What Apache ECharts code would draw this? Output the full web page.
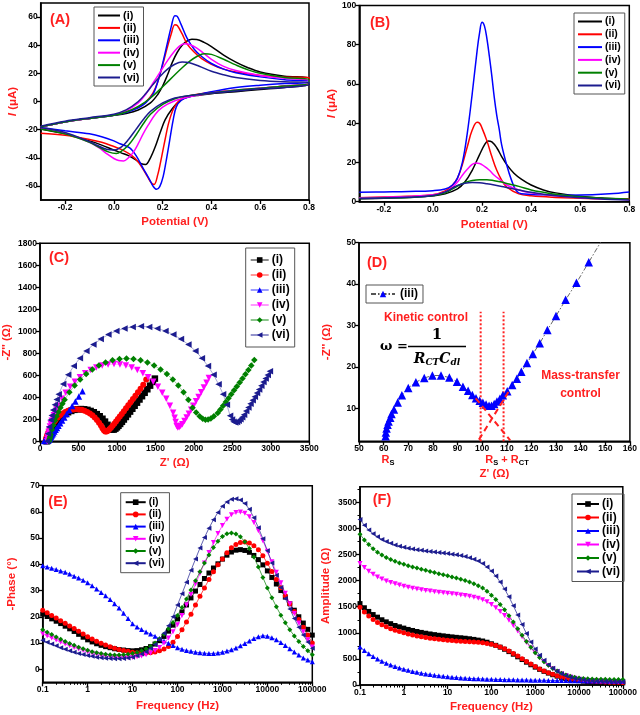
<!DOCTYPE html>
<html><head><meta charset="utf-8">
<script src="https://cdn.jsdelivr.net/npm/echarts@6/dist/echarts.min.js"></script>
<style>html,body{margin:0;padding:0;background:#fff}#c{width:640px;height:715px}</style>
</head><body><div id="c"></div>
<script>
// ---------- DATA ----------
const labels = ['(i)','(ii)','(iii)','(iv)','(v)','(vi)'];
// (A) cyclic voltammograms [E (V), I (uA)]
const cvI = [[-0.3,-18],[-0.2,-14.5],[-0.1,-12],[0,-9.8],[0.05,-8.5],[0.1,-6],[0.15,-1],[0.18,5],[0.2,11],[0.22,19],[0.24,28],[0.26,35],[0.28,40],[0.3,43],[0.32,44.2],[0.34,44],[0.37,42],[0.4,39],[0.45,33],[0.5,28],[0.55,24],[0.6,21],[0.7,18],[0.8,16.5],
 [0.8,12.5],[0.7,10],[0.6,8.5],[0.5,7],[0.4,5.5],[0.35,4.5],[0.3,3],[0.27,0.5],[0.24,-5],[0.21,-13],[0.19,-22],[0.17,-32],[0.15,-40],[0.13,-44.8],[0.11,-44],[0.09,-41.5],[0.06,-38.5],[0.03,-36.5],[0,-34.5],[-0.05,-31],[-0.1,-28],[-0.2,-23],[-0.3,-19.5]];
const cvII = [[-0.3,-18],[-0.2,-14.5],[-0.1,-12],[0,-9.8],[0.05,-7.5],[0.1,-4],[0.13,-0.5],[0.16,6],[0.18,14],[0.2,26],[0.22,39],[0.235,48],[0.25,54.5],[0.26,54],[0.28,48],[0.3,41],[0.33,35],[0.36,30.5],[0.4,26.5],[0.45,23],[0.5,21],[0.6,18.5],[0.7,17.3],[0.8,17],
 [0.8,13],[0.7,11],[0.6,9.5],[0.5,8],[0.4,6.5],[0.3,3.5],[0.27,1],[0.245,-5],[0.225,-15],[0.21,-27],[0.195,-40],[0.18,-52],[0.165,-59],[0.15,-57],[0.13,-51],[0.1,-43],[0.07,-38],[0.03,-34],[0,-32],[-0.05,-29],[-0.1,-27],[-0.2,-24],[-0.3,-22.5]];
const cvIII = [[-0.3,-18],[-0.2,-14.5],[-0.1,-12],[0,-9.8],[0.05,-7.8],[0.1,-4.5],[0.13,-1],[0.16,5],[0.18,14],[0.2,27],[0.22,42],[0.235,53],[0.25,61],[0.26,60.5],[0.275,55],[0.3,45],[0.33,37],[0.36,32],[0.4,27],[0.45,23],[0.5,20.5],[0.6,17.5],[0.7,15.5],[0.8,14.5],
 [0.8,13.5],[0.7,12.8],[0.6,11.6],[0.5,9.9],[0.4,6.9],[0.31,3.3],[0.277,0.9],[0.256,-3.8],[0.243,-13.2],[0.229,-27.4],[0.215,-41.6],[0.202,-53.4],[0.188,-60.5],[0.175,-62.4],[0.16,-60],[0.147,-55.7],[0.12,-47.5],[0.093,-39],[0.065,-33],[0.025,-30],[0,-28],[-0.05,-25],[-0.1,-23],[-0.2,-20.8],[-0.3,-18.4]];
const cvIV = [[-0.3,-18],[-0.2,-14.5],[-0.1,-12],[0,-9.5],[0.05,-6.5],[0.1,-1],[0.13,5],[0.16,13],[0.19,21],[0.22,29],[0.25,36],[0.27,39.5],[0.29,41],[0.31,40.5],[0.34,38],[0.37,34],[0.4,30],[0.45,25],[0.5,22],[0.6,18.5],[0.7,16.5],[0.8,15],
 [0.8,13],[0.7,11],[0.6,9.5],[0.5,8],[0.4,6],[0.3,3],[0.25,0.5],[0.2,-4],[0.17,-9],[0.14,-17],[0.12,-23],[0.1,-30],[0.08,-36],[0.06,-40],[0.04,-42.3],[0.02,-42],[0,-40.5],[-0.03,-37],[-0.06,-33],[-0.1,-29],[-0.2,-22.5],[-0.3,-19]];
const cvV = [[-0.3,-18],[-0.2,-14.5],[-0.1,-12],[0,-9.8],[0.05,-7.5],[0.1,-3.5],[0.15,2.5],[0.2,10.5],[0.25,19],[0.28,24],[0.31,28.5],[0.34,32],[0.37,34],[0.4,33.5],[0.45,30],[0.5,26],[0.55,22.5],[0.6,20],[0.7,17],[0.8,15.5],
 [0.8,13],[0.7,11],[0.6,9.5],[0.5,8],[0.4,6],[0.3,4],[0.25,2],[0.2,-2],[0.15,-9],[0.12,-16],[0.09,-24],[0.06,-31],[0.03,-35.5],[0.01,-37],[-0.02,-36],[-0.06,-32.5],[-0.1,-29],[-0.2,-23],[-0.3,-19.5]];
const cvVI = [[-0.3,-17.5],[-0.2,-14],[-0.1,-11.5],[0,-9],[0.05,-6],[0.1,0],[0.13,5.5],[0.16,12],[0.19,18],[0.22,23],[0.25,26.5],[0.28,28],[0.31,27.5],[0.35,25],[0.4,21.5],[0.45,19],[0.5,17],[0.6,15],[0.7,14],[0.8,13.5],
 [0.8,12],[0.7,10],[0.6,9],[0.5,7.5],[0.4,6],[0.3,4],[0.25,2.5],[0.2,-1],[0.15,-7],[0.12,-13],[0.09,-20],[0.06,-27],[0.03,-32.5],[0,-34.5],[-0.03,-34],[-0.07,-31],[-0.1,-28.5],[-0.2,-22],[-0.3,-18.5]];
// (B) differential pulse voltammograms
const dpvI = [[-0.3,1.5],[-0.2,1.8],[-0.1,2.2],[0,3],[0.05,4],[0.1,6.5],[0.13,10],[0.16,16],[0.19,24],[0.21,29],[0.225,31],[0.24,30.5],[0.26,27.5],[0.28,23],[0.3,19],[0.33,14.5],[0.36,11.5],[0.4,8.5],[0.45,6],[0.5,4.5],[0.6,2.8],[0.7,1.8],[0.8,1.2]];
const dpvII = [[-0.3,2],[-0.2,2.4],[-0.1,2.8],[0,3.6],[0.05,5.5],[0.08,8.5],[0.1,12],[0.12,19],[0.14,28],[0.16,36.5],[0.18,40.5],[0.19,40],[0.2,37.5],[0.22,31],[0.24,23],[0.26,16],[0.28,11],[0.3,7.5],[0.35,4],[0.4,3],[0.5,2.2],[0.6,1.8],[0.7,1.5],[0.8,1.5]];
const dpvIII = [[-0.3,4.8],[-0.2,5],[-0.1,5.2],[0,5.6],[0.05,6.5],[0.08,8.5],[0.1,12],[0.12,20],[0.14,35],[0.16,55],[0.18,77],[0.19,86],[0.2,91.5],[0.21,89.5],[0.22,83],[0.23,74],[0.24,64],[0.25,53],[0.26,44],[0.27,37],[0.28,29],[0.3,19],[0.32,11],[0.34,5.5],[0.36,4],[0.45,3.5],[0.55,3.3],[0.65,3.5],[0.72,4],[0.8,5]];
const dpvIV = [[-0.3,2],[-0.2,2.3],[-0.1,2.7],[0,3.5],[0.05,5],[0.08,7.5],[0.1,10],[0.12,13.5],[0.14,16.5],[0.16,19],[0.175,19.7],[0.19,19.5],[0.21,18],[0.23,16],[0.25,13.5],[0.28,10.5],[0.3,8.5],[0.35,6],[0.4,4.5],[0.5,3],[0.6,2],[0.7,1.5],[0.8,1]];
const dpvV = [[-0.3,1.6],[-0.2,1.9],[-0.1,2.2],[0,3],[0.05,4.5],[0.08,6.5],[0.1,8],[0.13,9.8],[0.16,10.8],[0.19,11.2],[0.22,11.2],[0.25,10.7],[0.28,10],[0.31,9],[0.35,7.8],[0.4,6],[0.45,4.8],[0.5,3.8],[0.6,2.5],[0.7,1.8],[0.8,1.3]];
const dpvVI = [[-0.3,1.6],[-0.2,1.9],[-0.1,2.3],[0,3.2],[0.05,5],[0.08,7],[0.1,8.3],[0.13,9.4],[0.16,9.8],[0.19,9.6],[0.22,9.1],[0.25,8.5],[0.28,7.8],[0.31,7],[0.35,6],[0.4,4.8],[0.45,3.8],[0.5,3],[0.6,2],[0.7,1.3],[0.8,0.8]];
// (C) Nyquist plots [Z', -Z'']
const nyqI = [[85,0],[90,12],[100,30],[110,49],[121,67],[133,85],[145,102],[159,119],[172,135],[187,150],[202,165],[218,179],[235,192],[252,205],[270,217],[288,228],[326,247],[365,264],[406,276],[447,286],[490,291],[532,293],[574,291],[617,286],[658,276],[699,264],[738,247],[776,228],[812,205],[845,179],[877,150],[900,128],[920,113],[940,106],[960,107],[980,115],[1000,127],[1020,141],[1042,158],[1065,177],[1090,198],[1116,221],[1143,245],[1171,270],[1200,296],[1230,323],[1261,351],[1293,380],[1326,410],[1360,441],[1395,473],[1431,506],[1468,540],[1493,570]];
const nyqII = [[72,0],[75,8],[78,17],[84,33],[92,51],[100,67],[109,83],[118,98],[128,114],[139,128],[150,143],[162,156],[175,169],[188,182],[202,194],[231,216],[262,236],[294,253],[328,267],[363,278],[398,286],[435,290],[471,292],[508,290],[544,286],[579,278],[614,267],[648,253],[680,236],[711,216],[740,194],[767,169],[792,143],[812,118],[830,100],[847,90],[865,90],[883,97],[902,109],[922,124],[943,141],[965,160],[988,180],[1012,202],[1037,225],[1063,249],[1090,274],[1118,300],[1147,327],[1177,355],[1208,384],[1240,414],[1273,445],[1307,477],[1342,515],[1381,562]];
const nyqIII = [[60.8,3.2],[60.9,4.1],[61.2,5.1],[61.6,6.0],[62.0,6.8],[62.7,7.7],[63.2,8.6],[64.2,9.7],[65.7,11.4],[67.4,13.1],[70.0,14.9],[73.1,16.3],[76.5,17.3],[79.8,17.9],[83.3,17.9],[86.7,17.4],[89.8,16.4],[92.2,15.2],[94.3,14.2],[96.0,13.2],[97.5,12.4],[99.0,11.8],[100.3,11.3],[101.6,10.9],[102.8,10.6],[103.8,10.6],[104.9,11.0],[106.0,11.6],[107.2,12.3],[108.4,13.1],[110.2,14.1],[112.2,15.6],[114.1,17.1],[115.9,18.8],[118.2,20.9],[120.6,23.1],[123.4,25.7],[126.5,28.9],[130.0,32.3],[133.9,36.2],[138.3,40.3],[143.3,45.3],[150,52],[160,62],[172,74],[186,88],[202,104],[220,122],[240,142],[262,164],[287,189],[315,217],[346,248],[380,282],[418,320],[460,362],[505,408],[552,456]];
const nyqIV = [[95,0],[98,20],[101,38],[106,60],[112,85],[120,110],[129,135],[140,160],[152,186],[166,212],[180,236],[196,260],[215,290],[236,324],[283,386],[335,442],[392,495],[453,542],[519,583],[587,619],[659,649],[732,672],[808,689],[885,699],[962,702],[1039,699],[1116,689],[1192,672],[1265,649],[1337,619],[1405,583],[1471,542],[1532,495],[1589,442],[1641,386],[1688,324],[1730,259],[1750,215],[1763,175],[1776,140],[1790,125],[1808,127],[1828,138],[1850,155],[1878,185],[1906,217],[1935,251],[1965,287],[1996,324],[2028,363],[2061,403],[2095,445],[2130,488],[2165,532],[2195,575]];
const nyqV = [[118,0],[122,14],[126,27],[132,44],[138,62],[155,105],[174,147],[195,188],[216,228],[240,267],[265,305],[292,342],[320,378],[382,445],[450,507],[522,562],[600,611],[680,653],[765,689],[852,716],[942,736],[1033,748],[1124,752],[1215,748],[1307,736],[1396,716],[1483,689],[1567,653],[1649,611],[1726,562],[1798,507],[1866,445],[1928,378],[1983,305],[2030,262],[2075,228],[2115,205],[2150,196],[2185,198],[2220,208],[2260,228],[2310,257],[2345,290],[2380,324],[2415,358],[2450,392],[2486,428],[2522,463],[2558,499],[2595,535],[2632,572],[2670,610],[2708,648],[2746,690],[2785,740]];
const nyqVI = [[92,0],[104,68],[119,131],[138,193],[152,234],[171,284],[193,333],[217,381],[243,428],[301,520],[366,605],[439,684],[518,756],[603,822],[694,880],[789,929],[889,971],[992,1003],[1097,1026],[1204,1040],[1311,1045],[1418,1040],[1525,1026],[1630,1003],[1733,971],[1832,929],[1928,880],[2019,822],[2104,756],[2183,684],[2256,604],[2321,519],[2379,428],[2429,333],[2470,233],[2495,198],[2516,178],[2538,172],[2560,176],[2582,186],[2605,200],[2628,218],[2652,242],[2680,275],[2708,308],[2736,341],[2764,374],[2792,406],[2820,439],[2848,472],[2876,505],[2904,538],[2932,570],[2960,603],[2988,636]];
// (D) annotation guides [Z', -Z'']
const dKineticLeft = [[99.4,2],[99.4,33.3]];
const dKineticRight = [[108.7,2],[108.7,33.3]];
const dTangentA = [[97.4,12.4],[111.4,2.2]];
const dTangentB = [[98.7,2.4],[111.4,14.6]];
// (E),(F) Bode plots
const freqs = [0.1,0.1259,0.1585,0.1995,0.2512,0.3162,0.3981,0.5012,0.631,0.7943,
 1,1.259,1.585,1.995,2.512,3.162,3.981,5.012,6.31,7.943,
 10,12.59,15.85,19.95,25.12,31.62,39.81,50.12,63.1,79.43,
 100,125.9,158.5,199.5,251.2,316.2,398.1,501.2,631,794.3,
 1000,1259,1585,1995,2512,3162,3981,5012,6310,7943,
 10000,12589,15849,19953,25119,31623,39811,50119,63096,79433,100000];
const phaseI = [21,20.1,19.2,18.3,17.4,16.4,15.4,14.4,13.3,12.2, 11.2,10.4,9.7,9.1,8.6,8.2,7.8,7.5,7.3,7.1, 7,7.1,7.4,7.9,8.6,9.6,10.9,12.5,14.5,16.8, 19.2,21.8,24.5,27.2,29.8,32.3,34.6,36.7,38.6,40.2, 42,43.5,44.7,45.4,45.6,45.3,44.6,43.4,41.8,39.8, 37.5,35,32.5,30,27.5,25,22.5,20,17.6,15.2,13];
const phaseII = [22.5,21.5,20.5,19.5,18.5,17.5,16.5,15.5,14.5,13.4, 12.4,11.5,10.7,9.9,9.2,8.6,8,7.5,7.1,6.8, 6.5,6.3,6.2,6.2,6.3,6.6,7,7.7,8.7,10.3, 12.5,15,18,21,24.5,27.8,31,34.2,37.2,39.8, 42,44.4,46.3,47.6,48.3,48.5,48.1,47.1,45.6,43.3, 40.4,37.3,34.2,31.1,28,25,22,19,16,13,10];
const phaseIII = [39.5,39,38.5,38,37.5,37,36.3,35.5,34.8,33.9, 33,31.8,30.6,29.3,28,26.6,25,23.3,21.3,19.3, 17.3,16.1,15.1,14.2,13.4,12.6,11.7,10.8,9.9,9, 8.2,7.6,7.1,6.8,6.5,6.3,6.1,6,6,6.2, 6.5,6.9,7.4,8.1,8.9,9.8,10.8,11.7,12.4,12.8, 12.6,12,11.2,10.2,9,7.8,6.6,5.4,4.3,3.5,2.8];
const phaseIV = [13.5,12.7,11.9,11.1,10.3,9.6,8.9,8.3,7.7,7.1, 6.6,6.1,5.7,5.3,5,4.8,4.6,4.5,4.4,4.4, 4.5,4.7,5,5.5,6.2,7.1,8.3,9.9,11.9,14.3, 17,20.5,24.5,28.5,32.5,36.5,40.5,44.5,48.3,51.8, 54.8,57.2,58.9,59.8,60,59.5,58.2,56,52.8,49, 45,41,37,33,29,25,21.2,17.6,14.3,11.2,8.5];
const phaseV = [15,14.1,13.2,12.3,11.4,10.6,9.8,9.1,8.4,7.8, 7.2,6.7,6.3,6,5.7,5.5,5.4,5.4,5.5,5.7, 6,6.4,7,7.8,8.8,10,11.5,13.3,15.4,17.8, 20.5,23.5,26.8,30.2,33.7,37.2,40.5,43.6,46.4,48.8, 50.6,51.7,52,51.6,50.5,48.6,46,42.8,39,35, 31,27.3,23.8,20.6,17.7,15,12.7,10.6,8.7,7,5.5];
const phaseVI = [11,10.3,9.6,8.9,8.2,7.6,7,6.5,6,5.6, 5.2,4.9,4.6,4.4,4.2,4.1,4,4,4.1,4.3, 4.6,5.1,5.8,6.7,7.9,9.4,11.3,13.7,16.6,20, 24.5,28.8,33.2,37.7,42,46.2,50.2,53.8,57,59.8, 62.2,63.8,64.8,65,64.5,63.2,61,57.8,54,49.8, 45.2,40.5,35.8,31.2,27,23,19.3,16,13,10.4,8];
const ampI = [1560,1480,1410,1350,1300,1250,1210,1175,1140,1115, 1090,1065,1045,1025,1008,992,978,965,953,942, 932,922,913,905,896,886,874,860,843,820, 790,760,725,685,640,590,540,488,437,388, 342,300,262,228,197,170,146,126,109,95, 83,74,67,61,56,52,49,46,44,42,40];
const ampII = [1490,1400,1320,1255,1200,1155,1115,1080,1050,1025, 1000,978,958,940,925,911,898,886,875,866, 858,851,845,840,835,830,824,817,808,796, 780,757,728,693,652,606,556,504,452,401, 353,309,270,235,204,177,154,134,117,103, 92,83,76,70,65,61,58,55,53,51,50];
const ampIII = [730,660,600,545,497,455,418,385,355,328, 303,281,261,243,227,212,199,187,176,166, 157,149,142,136,131,126,122,118,115,112, 109,107,105,103,101,99,97,96,94,93, 92,90,89,88,87,86,85,84,83,82, 81,80,79,78,77,76,75,74,73,72,71];
const ampIV = [2330,2250,2180,2120,2070,2030,1995,1965,1940,1915, 1893,1873,1855,1840,1825,1812,1800,1788,1777,1767, 1757,1747,1737,1726,1714,1700,1683,1662,1635,1595, 1545,1482,1410,1330,1240,1140,1035,925,815,710, 612,522,442,372,312,260,217,181,152,128, 110,97,88,82,77,74,71,69,67,66,65];
const ampV = [2890,2780,2690,2610,2545,2490,2445,2405,2370,2340, 2312,2287,2263,2240,2218,2197,2176,2155,2134,2113, 2092,2071,2049,2026,2001,1973,1941,1903,1857,1797, 1720,1640,1545,1440,1325,1205,1080,955,835,722, 620,528,447,377,317,267,226,193,167,148, 134,125,119,115,112,110,108,107,106,105,104];
const ampVI = [3170,3060,2970,2900,2840,2790,2750,2715,2685,2660, 2640,2622,2606,2592,2580,2569,2558,2548,2538,2528, 2518,2507,2495,2480,2462,2440,2412,2375,2326,2262, 2185,2090,1975,1840,1690,1520,1340,1160,985,825, 690,572,472,390,320,262,216,179,149,125, 108,95,86,79,74,70,67,65,63,62,61];
// tick labels
const potTicks = [-0.2,0,0.2,0.4,0.6,0.8];
const cvTicks = [-60,-40,-20,0,20,40,60];
const dpvTicks = [0,20,40,60,80,100];
const nyqTicksX = [0,500,1000,1500,2000,2500,3000,3500];
const nyqTicksY = [0,200,400,600,800,1000,1200,1400,1600,1800];
const dTicksX = [50,60,70,80,90,100,110,120,130,140,150,160];
const dTicksY = [10,20,30,40,50];
const freqTicks = [0.1,1,10,100,1000,10000,100000];
const freqMinor = [0.2,0.3,0.4,0.5,0.6,0.7,0.8,0.9,2,3,4,5,6,7,8,9,20,30,40,50,60,70,80,90,200,300,400,500,600,700,800,900,2000,3000,4000,5000,6000,7000,8000,9000,20000,30000,40000,50000,60000,70000,80000,90000];
const phaseTicks = [0,10,20,30,40,50,60,70];
const ampTicks = [0,500,1000,1500,2000,2500,3000,3500];
const ampMinor = [250,750,1250,1750,2250,2750,3250,3750];

// ---------- STYLE ----------
const colors = ['#000000','#ff0000','#0000ff','#ff00ff','#008000','#1c1c8f'];
const pale = ['#8a8a8a','#ff9a9a','#9a9aff','#ff9aff','#8cc48c','#9494cc'];
const symbols = ['rect','circle','triangle','triangle','diamond','triangle'];
const rots = [0,0,0,180,0,90];
const RED = '#ff1f1f';
const FF = 'Liberation Sans';
const potFmt = v => v.toFixed(1);
const intFmt = v => String(Math.round(v));
const freqFmt = v => v < 1 ? String(+v.toFixed(1)) : String(Math.round(v));
const nameStyle = {color: RED, fontWeight: 'bold', fontSize: 11.5, fontFamily: FF, rich: {i: {fontStyle: 'italic', fontWeight: 'bold', fontSize: 11.5, color: RED, fontFamily: FF}}};

function axis(type, grid, min, max, ticks, fmt, name, gap, isY) {
  return {
    type: type, gridIndex: grid, min: min, max: max,
    name: name, nameLocation: 'middle', nameGap: gap, nameRotate: isY ? 90 : 0,
    nameTextStyle: nameStyle,
    axisLine: {show: true, onZero: false, lineStyle: {color: '#000', width: 1.6}},
    axisTick: {show: true, inside: false, length: 4, customValues: ticks, lineStyle: {color: '#000', width: 1.3}},
    axisLabel: {show: true, customValues: ticks, formatter: fmt, fontSize: 8.5, fontWeight: 'bold', color: '#000', fontFamily: FF, margin: 3},
    splitLine: {show: false}, minorTick: {show: false}
  };
}
function minorAxis(type, grid, min, max, ticks, isY) {
  return {
    type: type, gridIndex: grid, min: min, max: max, position: isY ? 'left' : 'bottom',
    axisLine: {show: false, onZero: false},
    axisTick: {show: true, inside: false, length: 2.5, customValues: ticks, lineStyle: {color: '#000', width: 1}},
    axisLabel: {show: false}, splitLine: {show: false}
  };
}
const gridBase = {show: true, borderColor: '#000', borderWidth: 1.5, backgroundColor: 'transparent', containLabel: false};
const grids = [
  Object.assign({left: 40.7, top: 3, width: 268.3, height: 197}, gridBase),
  Object.assign({left: 359.3, top: 5.5, width: 270, height: 196.2}, gridBase),
  Object.assign({left: 39, top: 243.3, width: 270.3, height: 198}, gridBase),
  Object.assign({left: 359, top: 242.7, width: 271.7, height: 198.6}, gridBase),
  Object.assign({left: 42.7, top: 485.7, width: 269.6, height: 196.6}, gridBase),
  Object.assign({left: 360, top: 486.7, width: 273.3, height: 198.3}, gridBase)
];
const xAxes = [
  axis('value', 0, -0.3, 0.8, potTicks, potFmt, 'Potential (V)', 16, false),
  axis('value', 1, -0.3, 0.8, potTicks, potFmt, 'Potential (V)', 17, false),
  axis('value', 2, 0, 3500, nyqTicksX, intFmt, "Z' (Ω)", 16, false),
  axis('value', 3, 50, 160, dTicksX, intFmt, "Z' (Ω)", 27, false),
  axis('log', 4, 0.1, 100000, freqTicks, freqFmt, 'Frequency (Hz)', 18, false),
  axis('log', 5, 0.1, 100000, freqTicks, freqFmt, 'Frequency (Hz)', 16, false),
  minorAxis('log', 4, 0.1, 100000, freqMinor, false),
  minorAxis('log', 5, 0.1, 100000, freqMinor, false)
];
xAxes[4].logBase = 10; xAxes[5].logBase = 10;
const yAxes = [
  axis('value', 0, -70, 70, cvTicks, intFmt, '{i|I} (μA)', 22, true),
  axis('value', 1, 0, 100, dpvTicks, intFmt, '{i|I} (μA)', 21, true),
  axis('value', 2, 0, 1800, nyqTicksY, intFmt, "-Z'' (Ω)", 27, true),
  axis('value', 3, 2, 50, dTicksY, intFmt, "-Z'' (Ω)", 26, true),
  axis('value', 4, -5, 70, phaseTicks, intFmt, '-Phase (°)', 25, true),
  axis('value', 5, 0, 3800, ampTicks, intFmt, 'Amplitude (Ω)', 28, true),
  minorAxis('value', 5, 0, 3800, ampMinor, true)
];

const series = [];
const cvSets = [cvI, cvII, cvIII, cvIV, cvV, cvVI];
const dpvSets = [dpvI, dpvII, dpvIII, dpvIV, dpvV, dpvVI];
const nyqSets = [nyqI, nyqII, nyqIII, nyqIV, nyqV, nyqVI];
const phaseSets = [phaseI, phaseII, phaseIII, phaseIV, phaseV, phaseVI];
const ampSets = [ampI, ampII, ampIII, ampIV, ampV, ampVI];
for (let k = 0; k < 6; k++) {
  series.push({name: 'A' + labels[k], type: 'line', xAxisIndex: 0, yAxisIndex: 0, data: cvSets[k], symbol: 'none', smooth: 0.35,
    lineStyle: {color: colors[k], width: 1.5}, itemStyle: {color: colors[k]}, silent: true, animation: false});
  series.push({name: 'B' + labels[k], type: 'line', xAxisIndex: 1, yAxisIndex: 1, data: dpvSets[k], symbol: 'none', smooth: 0.4,
    lineStyle: {color: colors[k], width: 1.5}, itemStyle: {color: colors[k]}, silent: true, animation: false});
  series.push({name: 'C' + labels[k], type: 'line', xAxisIndex: 2, yAxisIndex: 2, data: nyqSets[k], symbol: symbols[k], symbolRotate: rots[k], symbolSize: k === 1 ? 6 : 6.5,
    lineStyle: {color: pale[k], width: 0.8}, itemStyle: {color: colors[k]}, silent: true, animation: false});
  series.push({name: 'E' + labels[k], type: 'line', xAxisIndex: 4, yAxisIndex: 4, data: freqs.map((f, j) => [f, phaseSets[k][j]]), symbol: symbols[k], symbolRotate: rots[k], symbolSize: 5,
    lineStyle: {color: colors[k], width: 0.7}, itemStyle: {color: colors[k]}, silent: true, animation: false});
  series.push({name: 'F' + labels[k], type: 'line', xAxisIndex: 5, yAxisIndex: 5, data: freqs.map((f, j) => [f, ampSets[k][j]]), symbol: symbols[k], symbolRotate: rots[k], symbolSize: 5,
    lineStyle: {color: colors[k], width: 0.7}, itemStyle: {color: colors[k]}, silent: true, animation: false});
}
series.push({name: 'D(iii)', type: 'line', xAxisIndex: 3, yAxisIndex: 3, data: nyqIII, symbol: 'triangle', symbolSize: 8.5,
  lineStyle: {color: '#555', width: 0.9, type: [5, 2, 1.5, 2]}, itemStyle: {color: '#0000ff'}, silent: true, animation: false, z: 3});
[dKineticLeft, dKineticRight].forEach(d => series.push({type: 'line', xAxisIndex: 3, yAxisIndex: 3, data: d, symbol: 'none',
  lineStyle: {color: '#ff2020', width: 2, type: [2, 2]}, silent: true, animation: false, z: 2}));
[dTangentA, dTangentB].forEach(d => series.push({type: 'line', xAxisIndex: 3, yAxisIndex: 3, data: d, symbol: 'none',
  lineStyle: {color: '#ff2020', width: 2, type: [6, 4]}, silent: true, animation: false, z: 4}));

function legend(prefix, left, top, fs, lh, gap, iw, pad, plain) {
  const lg = {orient: 'vertical', left: left, top: top, data: labels.map(l => prefix + l), formatter: n => n.slice(1),
    itemWidth: iw, itemHeight: 7, itemGap: gap, padding: pad, borderColor: '#555', borderWidth: 1, selectedMode: false,
    textStyle: {fontSize: fs, lineHeight: lh, fontWeight: 'bold', color: '#000', fontFamily: FF, padding: [0, 0, 0, -2]}};
  if (plain) { lg.icon = 'rect'; lg.itemHeight = 2; }
  return lg;
}
const legends = [
  legend('A', 94, 7, 11, 11, 1.4, 22, [3, 4, 3, 4], true),
  legend('B', 574, 13, 10.5, 11, 1.8, 24, [3, 4, 3, 4], true),
  legend('C', 245.7, 248, 12, 12, 3, 18, [6, 5, 6, 4], false),
  legend('E', 120.7, 492.7, 10.5, 11, 1.2, 20, [4, 5, 4, 4], false),
  legend('F', 572, 494, 12, 12, 1.5, 22, [4, 4, 4, 4], false),
  {orient: 'vertical', left: 366, top: 285, data: ['D(iii)'], formatter: n => n.slice(1), itemWidth: 24, itemHeight: 8,
    padding: [3, 5, 3, 4], borderColor: '#555', borderWidth: 1, selectedMode: false,
    textStyle: {fontSize: 12, fontWeight: 'bold', color: '#000', fontFamily: FF}}
];

function panelLabel(t, x, y) {
  return {type: 'text', x: x, y: y, style: {text: t, fill: RED, font: 'bold 14.5px "Liberation Sans"', align: 'center', verticalAlign: 'middle'}, z: 10};
}
const redSmall = {a: {fontSize: 11, fontWeight: 'bold', fontFamily: FF, fill: RED, color: RED}, b: {fontSize: 7.5, fontWeight: 'bold', fontFamily: FF, color: RED, padding: [6, 0, 0, 0]}};
const graphics = [
  panelLabel('(A)', 60, 20), panelLabel('(B)', 380, 23), panelLabel('(C)', 59, 258),
  panelLabel('(D)', 377, 263), panelLabel('(E)', 58, 502), panelLabel('(F)', 382, 500),
  {type: 'text', x: 426, y: 318, style: {text: 'Kinetic control', fill: RED, font: 'bold 12px "Liberation Sans"', align: 'center', verticalAlign: 'middle'}, z: 10},
  {type: 'text', x: 580.5, y: 376, style: {text: 'Mass-transfer', fill: RED, font: 'bold 12px "Liberation Sans"', align: 'center', verticalAlign: 'middle'}, z: 10},
  {type: 'text', x: 580.5, y: 394, style: {text: 'control', fill: RED, font: 'bold 12px "Liberation Sans"', align: 'center', verticalAlign: 'middle'}, z: 10},
  {type: 'text', x: 394, y: 347, style: {text: 'ω =', fill: '#000', font: 'bold 13px "DejaVu Serif"', align: 'center', verticalAlign: 'middle'}, z: 10},
  {type: 'text', x: 437, y: 335.5, style: {text: '1', fill: '#000', font: 'bold 15px "DejaVu Serif"', align: 'center', verticalAlign: 'middle'}, z: 10},
  {type: 'line', shape: {x1: 408, y1: 346.5, x2: 466, y2: 346.5}, style: {stroke: '#000', lineWidth: 1.3}, z: 10},
  {type: 'text', x: 437, y: 359, style: {text: '{a|R}{b|CT}{a|C}{b|dl}', align: 'center', verticalAlign: 'middle',
    rich: {a: {fontSize: 14, fontStyle: 'italic', fontWeight: 'bold', fontFamily: 'DejaVu Serif', color: '#000'},
           b: {fontSize: 9, fontStyle: 'italic', fontWeight: 'bold', fontFamily: 'DejaVu Serif', color: '#000', padding: [7, 0, 0, 0]}}}, z: 10},
  {type: 'text', x: 388, y: 460, style: {text: '{a|R}{b|S}', align: 'center', verticalAlign: 'middle', rich: redSmall}, z: 10},
  {type: 'text', x: 507, y: 460, style: {text: '{a|R}{b|S}{a| + R}{b|CT}', align: 'center', verticalAlign: 'middle', rich: redSmall}, z: 10}
];

const chart = echarts.init(document.getElementById('c'), null, {renderer: 'canvas'});
chart.setOption({
  animation: false, backgroundColor: '#fff',
  grid: grids, xAxis: xAxes, yAxis: yAxes, series: series, legend: legends, graphic: graphics
});
</script></body></html>
